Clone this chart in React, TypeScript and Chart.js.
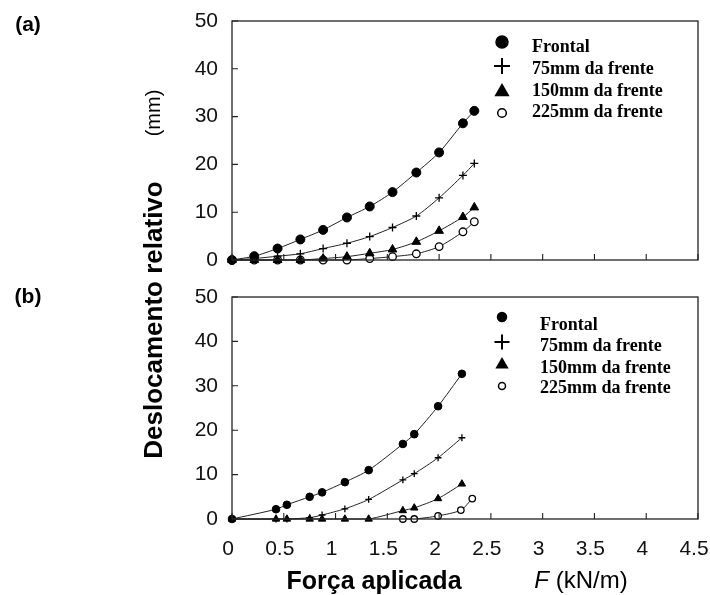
import React, { useEffect, useRef } from "react";
import { Chart, registerables } from "chart.js";

Chart.register(...registerables);

// ---------- data ----------
const seriesLabels = ["Frontal", "75mm da frente", "150mm da frente", "225mm da frente"];

const xTickValues = [0, 0.5, 1, 1.5, 2, 2.5, 3, 3.5, 4, 4.5];
const xTickLabels = ["0", "0.5", "1", "1.5", "2", "2.5", "3", "3.5", "4", "4.5"];
const yTickValues = [0, 10, 20, 30, 40, 50];
const yTickLabels = ["0", "10", "20", "30", "40", "50"];

// panel (a)
const aForce = [0, 0.215, 0.44, 0.66, 0.88, 1.11, 1.33, 1.55, 1.78, 2.0, 2.23, 2.34];
const aFrontal = [0, 0.8, 2.4, 4.3, 6.3, 8.9, 11.2, 14.2, 18.3, 22.5, 28.6, 31.2];
const a75 = [0, 0.3, 0.8, 1.3, 2.4, 3.5, 4.9, 6.8, 9.2, 13.0, 17.7, 20.2];
const a150 = [0, 0, 0, 0, 0.3, 0.7, 1.4, 2.2, 3.8, 6.1, 9.0, 11.0];
const a225 = [0, 0, 0, 0, 0, 0, 0.3, 0.7, 1.3, 2.8, 5.9, 8.0];

// panel (b)
const bForce = [0, 0.425, 0.53, 0.75, 0.87, 1.09, 1.32, 1.65, 1.76, 1.99, 2.22];
const bFrontal = [0, 2.2, 3.2, 5.0, 6.0, 8.3, 11.0, 16.9, 19.1, 25.4, 32.7];
const b75 = [0, 0, 0, 0.3, 0.9, 2.3, 4.4, 8.8, 10.2, 13.8, 18.3];
const b150 = [0, 0, 0, 0, 0, 0, 0, 1.9, 2.5, 4.6, 7.9];
const b225Force = [1.65, 1.76, 1.99, 2.21, 2.32];
const b225 = [0, 0, 0.7, 2.0, 4.6];

// ---------- helpers ----------
const pts = (xs: number[], ys: number[]) => xs.map((x, i) => ({ x, y: ys[i] }));

type Style = { pointStyle: string; fill: string; radius: number; bw: number };
const styles: Style[] = [
  { pointStyle: "circle", fill: "#000", radius: 4.5, bw: 1 },
  { pointStyle: "cross", fill: "#000", radius: 4, bw: 1.3 },
  { pointStyle: "triangle", fill: "#000", radius: 5, bw: 1 },
  { pointStyle: "circle", fill: "#fff", radius: 3.8, bw: 1.3 },
];

function makeDatasets(series: { x: number; y: number }[][], scaleR: number) {
  return series.map((data, i) => ({
    label: seriesLabels[i],
    data,
    showLine: true,
    borderColor: "#222",
    borderWidth: 1,
    tension: 0.25,
    pointStyle: styles[i].pointStyle,
    pointBackgroundColor: styles[i].fill,
    pointBorderColor: "#000",
    pointBorderWidth: styles[i].bw,
    pointRadius: styles[i].radius * scaleR,
    clip: false as any,
  }));
}

function drawMarker(ctx: CanvasRenderingContext2D, style: string, fill: string, x: number, y: number, s: number) {
  ctx.save();
  ctx.strokeStyle = "#000";
  ctx.fillStyle = fill;
  if (style === "circle") {
    ctx.lineWidth = 1.5;
    ctx.beginPath();
    ctx.arc(x, y, s, 0, Math.PI * 2);
    ctx.fill();
    ctx.stroke();
  } else if (style === "cross") {
    ctx.lineWidth = 2;
    ctx.beginPath();
    ctx.moveTo(x - s, y);
    ctx.lineTo(x + s, y);
    ctx.moveTo(x, y - s);
    ctx.lineTo(x, y + s);
    ctx.stroke();
  } else if (style === "triangle") {
    ctx.beginPath();
    ctx.moveTo(x, y - s);
    ctx.lineTo(x - s * 0.95, y + s * 0.65);
    ctx.lineTo(x + s * 0.95, y + s * 0.65);
    ctx.closePath();
    ctx.fill();
  }
  ctx.restore();
}

function makeLegendPlugin(cfg: { markerX: number; markerY: number[]; sizes: number[]; textX: number; textY: number[] }) {
  return {
    id: "customLegend",
    afterDraw(chart: any) {
      const ctx = chart.ctx as CanvasRenderingContext2D;
      ctx.save();
      chart.data.datasets.forEach((ds: any, i: number) => {
        drawMarker(ctx, ds.pointStyle, ds.pointBackgroundColor, cfg.markerX, cfg.markerY[i], cfg.sizes[i]);
        ctx.fillStyle = "#000";
        ctx.font = 'bold 18px "Liberation Serif", "Times New Roman", serif';
        ctx.textBaseline = "middle";
        ctx.textAlign = "left";
        ctx.fillText(ds.label, cfg.textX, cfg.textY[i]);
      });
      ctx.restore();
    },
  };
}

const framePlugin = {
  id: "frame",
  afterDraw(chart: any) {
    const { ctx, chartArea } = chart;
    const { left, top, right, bottom } = chartArea;
    ctx.save();
    ctx.strokeStyle = "#222";
    ctx.lineWidth = 1.3;
    ctx.strokeRect(left, top, right - left, bottom - top);
    ctx.lineWidth = 1.1;
    ctx.beginPath();
    xTickValues.forEach((v) => {
      const px = chart.scales.x.getPixelForValue(v);
      ctx.moveTo(px, bottom);
      ctx.lineTo(px, bottom - 6);
    });
    yTickValues.forEach((v) => {
      const py = chart.scales.y.getPixelForValue(v);
      ctx.moveTo(left, py);
      ctx.lineTo(left + 6, py);
    });
    ctx.stroke();
    ctx.restore();
  },
};

const tickFont = { family: '"Liberation Sans", Arial, sans-serif', size: 21 };

function makeOptions(showX: boolean, xHeight: number, padTop: number) {
  return {
    responsive: false,
    maintainAspectRatio: false,
    animation: false as const,
    layout: { padding: { left: 0, top: padTop, right: 12, bottom: 0 } },
    plugins: { legend: { display: false }, tooltip: { enabled: false } },
    elements: { line: { borderCapStyle: "round" } },
    scales: {
      x: {
        type: "linear" as const,
        min: 0,
        max: 4.5,
        afterBuildTicks: (s: any) => {
          s.ticks = xTickValues.map((value) => ({ value }));
        },
        ticks: {
          display: showX,
          font: tickFont,
          color: "#111",
          padding: 18,
          labelOffset: -4,
          maxRotation: 0,
          autoSkip: false,
          callback: (_v: any, i: number) => xTickLabels[i],
        },
        grid: { display: false, drawTicks: false },
        border: { display: false },
        afterFit: (s: any) => {
          s.height = xHeight;
          s.paddingLeft = 0;
          s.paddingRight = 0;
        },
      },
      y: {
        type: "linear" as const,
        min: 0,
        max: 50,
        afterBuildTicks: (s: any) => {
          s.ticks = yTickValues.map((value) => ({ value }));
        },
        ticks: {
          font: tickFont,
          color: "#111",
          padding: 14,
          autoSkip: false,
          callback: (_v: any, i: number) => yTickLabels[i],
        },
        grid: { display: false, drawTicks: false },
        border: { display: false },
        afterFit: (s: any) => {
          s.width = 232;
          s.paddingTop = 0;
          s.paddingBottom = 0;
        },
      },
    },
  };
}

function Panel(props: { top: number; height: number; build: (c: HTMLCanvasElement) => Chart }) {
  const ref = useRef<HTMLCanvasElement | null>(null);
  useEffect(() => {
    if (!ref.current) return;
    const chart = props.build(ref.current);
    return () => chart.destroy();
  }, []);
  return (
    <canvas
      ref={ref}
      width={710}
      height={props.height}
      style={{ position: "absolute", left: 0, top: props.top, width: 710, height: props.height }}
    />
  );
}

const sans = '"Liberation Sans", Arial, sans-serif';

export default function App() {
  const buildA = (c: HTMLCanvasElement) =>
    new Chart(c, {
      type: "scatter",
      data: {
        datasets: makeDatasets(
          [pts(aForce, aFrontal), pts(aForce, a75), pts(aForce, a150), pts(aForce, a225)],
          1
        ) as any,
      },
      options: makeOptions(false, 20, 21) as any,
      plugins: [
        framePlugin,
        makeLegendPlugin({
          markerX: 502,
          markerY: [42, 66, 91, 113],
          sizes: [6, 8, 8, 4.3],
          textX: 532,
          textY: [47, 69, 91, 112],
        }),
      ],
    });

  const buildB = (c: HTMLCanvasElement) =>
    new Chart(c, {
      type: "scatter",
      data: {
        datasets: makeDatasets(
          [pts(bForce, bFrontal), pts(bForce, b75), pts(bForce, b150), pts(b225Force, b225)],
          0.85
        ) as any,
      },
      options: makeOptions(true, 76, 17) as any,
      plugins: [
        framePlugin,
        makeLegendPlugin({
          markerX: 502,
          markerY: [37, 62, 84, 106],
          sizes: [4.5, 7.5, 7, 3.5],
          textX: 540,
          textY: [45, 66, 88, 108],
        }),
      ],
    });

  const center: React.CSSProperties = {
    position: "absolute",
    whiteSpace: "nowrap",
    lineHeight: 1,
    color: "#000",
  };

  return (
    <div style={{ position: "absolute", left: 0, top: 0, width: 710, height: 595, background: "#fff", overflow: "hidden" }}>
      <Panel top={0} height={280} build={buildA} />
      <Panel top={280} height={315} build={buildB} />
      <div style={{ ...center, left: 28, top: 24, transform: "translate(-50%,-50%)", font: `bold 21px ${sans}` }}>(a)</div>
      <div style={{ ...center, left: 28, top: 296, transform: "translate(-50%,-50%)", font: `bold 21px ${sans}` }}>(b)</div>
      <div
        style={{ ...center, left: 153, top: 320, transform: "translate(-50%,-50%) rotate(-90deg)", font: `bold 26px ${sans}` }}
      >
        Deslocamento relativo
      </div>
      <div
        style={{ ...center, left: 153, top: 113, transform: "translate(-50%,-50%) rotate(-90deg)", font: `20px ${sans}` }}
      >
        (mm)
      </div>
      <div style={{ ...center, left: 374, top: 580, transform: "translate(-50%,-50%)", font: `bold 25px ${sans}` }}>
        Força aplicada
      </div>
      <div style={{ ...center, left: 581, top: 580, transform: "translate(-50%,-50%)", font: `24px ${sans}` }}>
        <i>F</i> (kN/m)
      </div>
    </div>
  );
}
